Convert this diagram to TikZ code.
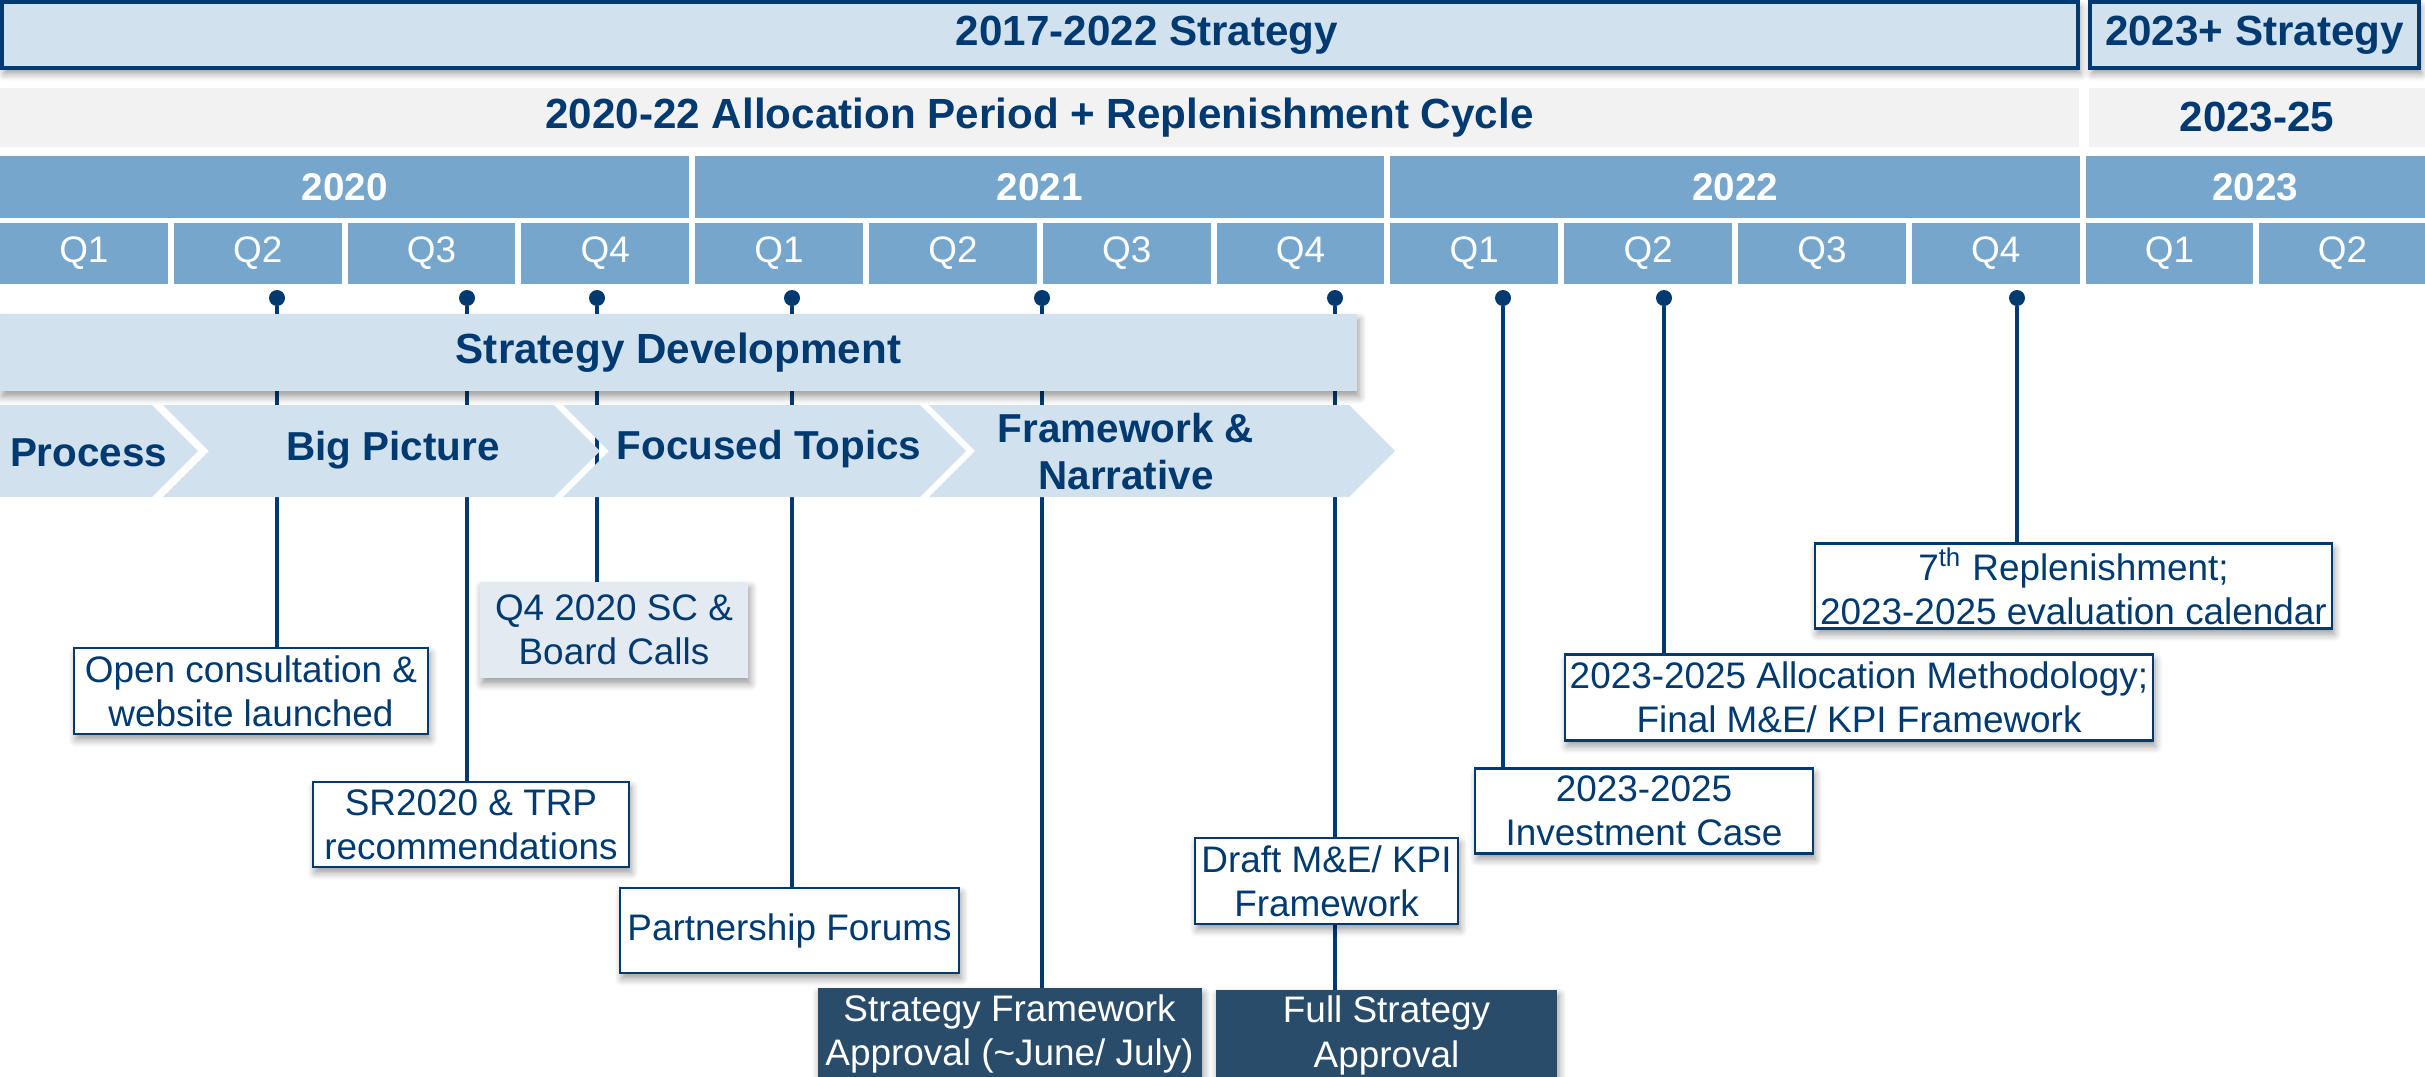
\documentclass[tikz,border=0pt]{standalone}
\usepackage{fontspec}
\setmainfont{Liberation Sans}
\usetikzlibrary{positioning,backgrounds,shadows.blur}

\definecolor{navy}{RGB}{0,58,112}
\definecolor{paleblue}{RGB}{209,225,238}
\definecolor{midblue}{RGB}{118,166,204}
\definecolor{greybar}{RGB}{242,242,242}
\definecolor{calloutgrey}{RGB}{228,234,242}
\definecolor{darkslate}{RGB}{42,76,107}

\begin{document}
\begin{tikzpicture}[node distance=0.06cm,
  every node/.append style={align=center, inner sep=0pt, outer sep=0pt},
  boxshadow/.style={blur shadow={shadow xshift=0.6pt, shadow yshift=-1.6pt, shadow blur steps=6, shadow opacity=40}},
  strat/.style={draw=navy, line width=1.1pt, fill=paleblue, text=navy, font=\fontsize{12}{14}\selectfont\bfseries, minimum height=0.66cm, boxshadow},
  cyclebar/.style={fill=greybar, text=navy, font=\fontsize{12}{14}\selectfont\bfseries, minimum height=0.59cm},
  yearbox/.style={fill=midblue, text=white, font=\fontsize{11}{13}\selectfont\bfseries, minimum height=0.62cm, anchor=west},
  qbox/.style={fill=midblue, text=white, font=\fontsize{10.5}{12}\selectfont, minimum width=1.678cm, minimum height=0.61cm, anchor=west},
  devbar/.style={fill=paleblue, text=navy, font=\fontsize{12}{14}\selectfont\bfseries, boxshadow},
  chev/.style={fill=paleblue},
  chevtext/.style={text=navy, font=\fontsize{11.5}{13.4}\selectfont\bfseries},
  pin/.style={circle, fill=navy, minimum size=0.16cm},
  pinline/.style={draw=navy, line width=0.95pt},
  callout/.style={draw=navy, line width=0.6pt, fill=white, text=navy, font=\fontsize{10.5}{12.6}\selectfont, boxshadow},
  greycallout/.style={fill=calloutgrey, text=navy, font=\fontsize{10.5}{12.6}\selectfont, boxshadow},
  approval/.style={fill=darkslate, text=white, font=\fontsize{10.5}{12.6}\selectfont, boxshadow}]
 \useasboundingbox (0,0) rectangle (24.25,-10.76);

 % strategy periods
 \node [strat, minimum width=20.76cm] (s1722) at (10.40,-0.35) {\hspace*{2.14cm}2017-2022 Strategy};
 \node [strat, minimum width=3.29cm] (s23) at (22.545,-0.35) {2023+ Strategy};
 \node [cyclebar, minimum width=20.79cm] (cyc2022) at (10.395,-1.175) {2020-22 Allocation Period + Replenishment Cycle};
 \node [cyclebar, minimum width=3.36cm] (cyc2325) at (22.57,-1.175) {2023-25};

 % years
 \node [yearbox, minimum width=6.892cm] (y2020) at (0,-1.87) {2020};
 \node [yearbox, minimum width=6.892cm, right=of y2020] (y2021) {2021};
 \node [yearbox, minimum width=6.892cm, right=of y2021] (y2022) {2022};
 \node [yearbox, minimum width=3.394cm, right=of y2022] (y2023) {2023};

 % quarters
 \node [qbox] (q20q1) at (0,-2.535) {Q1};
 \node [qbox, right=of q20q1] (q20q2) {Q2};
 \node [qbox, right=of q20q2] (q20q3) {Q3};
 \node [qbox, right=of q20q3] (q20q4) {Q4};
 \node [qbox, right=of q20q4] (q21q1) {Q1};
 \node [qbox, right=of q21q1] (q21q2) {Q2};
 \node [qbox, right=of q21q2] (q21q3) {Q3};
 \node [qbox, right=of q21q3] (q21q4) {Q4};
 \node [qbox, right=of q21q4] (q22q1) {Q1};
 \node [qbox, right=of q22q1] (q22q2) {Q2};
 \node [qbox, right=of q22q2] (q22q3) {Q3};
 \node [qbox, right=of q22q3] (q22q4) {Q4};
 \node [qbox, right=of q22q4] (q23q1) {Q1};
 \node [qbox, right=of q23q1, minimum width=1.66cm] (q23q2) {Q2};

 % milestone pins
 \node [pin] (d1) at (2.77,-2.98) {};
 \node [pin] (d2) at (4.67,-2.98) {};
 \node [pin] (d3) at (5.97,-2.98) {};
 \node [pin] (d4) at (7.92,-2.98) {};
 \node [pin] (d5) at (10.42,-2.98) {};
 \node [pin] (d6) at (13.35,-2.98) {};
 \node [pin] (d7) at (15.03,-2.98) {};
 \node [pin] (d8) at (16.64,-2.98) {};
 \node [pin] (d9) at (20.17,-2.98) {};

 \node [devbar, minimum width=13.57cm, minimum height=0.77cm] (dev) at (6.785,-3.525) {Strategy Development};

 % process chevrons
 \fill [chev] (0,-4.05) -- (1.52,-4.05) -- (1.98,-4.51) -- (1.52,-4.97) -- (0,-4.97) -- cycle;
 \fill [chev] (1.63,-4.05) -- (5.54,-4.05) -- (6.00,-4.51) -- (5.54,-4.97) -- (1.63,-4.97) -- (2.09,-4.51) -- cycle;
 \fill [chev] (5.63,-4.05) -- (9.20,-4.05) -- (9.66,-4.51) -- (9.20,-4.97) -- (5.63,-4.97) -- (6.09,-4.51) -- cycle;
 \fill [chev] (9.29,-4.05) -- (13.49,-4.05) -- (13.95,-4.51) -- (13.49,-4.97) -- (9.29,-4.97) -- (9.75,-4.51) -- cycle;
 \node [chevtext, anchor=west] (process) at (0.10,-4.53) {Process};
 \node [chevtext] (bigpic) at (3.93,-4.50) {Big Picture};
 \node [chevtext] (focused) at (7.69,-4.49) {Focused Topics};
 \node [chevtext] (framework) at (11.26,-4.515) {Framework \&\\Narrative};

 % milestones
 \node [callout, minimum width=3.54cm, minimum height=0.86cm] (open) at (2.51,-6.91) {Open consultation \&\\website launched};
 \node [callout, minimum width=3.16cm, minimum height=0.85cm] (sr) at (4.71,-8.245) {SR2020 \& TRP\\recommendations};
 \node [greycallout, minimum width=2.68cm, minimum height=0.96cm] (board) at (6.14,-6.30) {Q4 2020 SC \&\\Board Calls};
 \node [callout, minimum width=3.39cm, minimum height=0.85cm] (forums) at (7.895,-9.305) {Partnership Forums};
 \node [approval, minimum width=3.84cm, minimum height=0.92cm] (sfa) at (10.095,-10.34) {Strategy Framework\\Approval (\textasciitilde{}June/ July)};
 \node [callout, minimum width=2.63cm, minimum height=0.86cm] (draft) at (13.265,-8.81) {Draft M\&E/ KPI\\Framework};
 \node [approval, minimum width=3.41cm, minimum height=0.92cm] (fsa) at (13.865,-10.355) {Full Strategy\\Approval};
 \node [callout, minimum width=3.38cm, minimum height=0.85cm] (invest) at (16.44,-8.11) {2023-2025\\Investment Case};
 \node [callout, minimum width=5.88cm, minimum height=0.86cm] (alloc) at (18.59,-6.975) {2023-2025 Allocation Methodology;\\Final M\&E/ KPI Framework};
 \node [callout, minimum width=5.17cm, minimum height=0.85cm] (repl) at (20.735,-5.86) {7\textsuperscript{th} Replenishment;\\2023-2025 evaluation calendar};

 \begin{pgfonlayer}{background}
 \draw [pinline] (d1) -- (d1 |- open.north);
 \draw [pinline] (d2) -- (d2 |- sr.north);
 \draw [pinline] (d3) -- (d3 |- board.north);
 \draw [pinline] (d4) -- (d4 |- forums.north);
 \draw [pinline] (d5) -- (d5 |- sfa.north);
 \draw [pinline] (d6) -- (d6 |- draft.north);
 \draw [pinline] (d6 |- draft.south) -- (d6 |- fsa.north);
 \draw [pinline] (d7) -- (d7 |- invest.north);
 \draw [pinline] (d8) -- (d8 |- alloc.north);
 \draw [pinline] (d9) -- (d9 |- repl.north);
 \end{pgfonlayer}
\end{tikzpicture}
\end{document}
